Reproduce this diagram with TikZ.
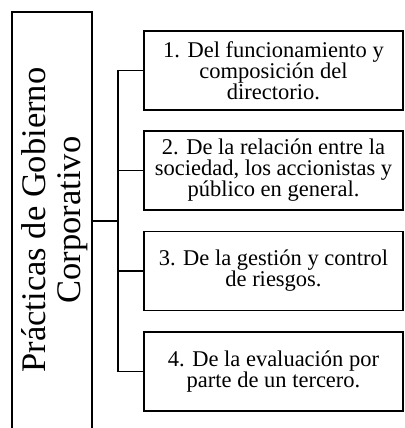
\documentclass[tikz,border=0pt]{standalone}
\usepackage{fontspec}
\setmainfont{Liberation Serif}
\begin{document}
\begin{tikzpicture}[x=1pt,y=-1pt,
  every path/.style={line width=1.7pt},
  itembox/.style={draw,line width=1.7pt,rectangle,minimum width=259pt,minimum height=79pt,inner sep=0pt,align=center,font=\fontsize{22.5}{21}\selectfont},
  conn/.style={draw,line width=1.7pt}]
\useasboundingbox (0,0) rectangle (404,428);
\node[draw,line width=1.7pt,rectangle,minimum width=80pt,minimum height=420pt,inner sep=0pt] (left) at (52,222) {};
\node[rotate=90,align=center,inner sep=0pt,font=\fontsize{34.5}{35}\selectfont] (title) at (54.5,220) {Prácticas de Gobierno\\Corporativo};
\node[itembox] (b1) at (273.5,70.5) {1. Del funcionamiento y\\composición del\\directorio.};
\node[itembox] (b2) at (273.5,170.5) {2. De la relación entre la\\sociedad, los accionistas y\\público en general.};
\node[itembox] (b3) at (273.5,271) {3. De la gestión y control\\de riesgos.};
\node[itembox] (b4) at (273.5,371.5) {4. De la evaluación por\\parte de un tercero.};
\coordinate (j) at (118,221);
\draw[conn] (b1.west) -- (b1.west -| j) |- (b4.west);
\draw[conn] (b2.west) -- (b2.west -| j);
\draw[conn] (b3.west) -- (b3.west -| j);
\draw[conn] (left.east |- j) -- (j);
\end{tikzpicture}
\end{document}
